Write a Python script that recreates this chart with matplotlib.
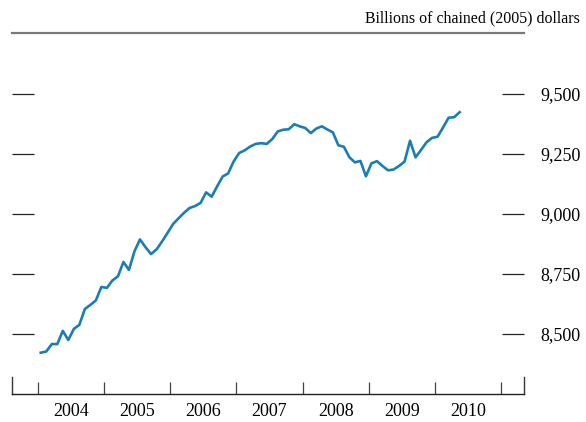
import numpy as np
import matplotlib
matplotlib.use("Agg")
import matplotlib.pyplot as plt
from matplotlib.ticker import FixedLocator, NullFormatter

# -------------------------------
# DATA (monthly, Jan 2004 - May 2010)
# -------------------------------
start_year = 2004
values = [
    8422, 8427, 8458, 8458, 8513, 8475, 8521, 8538, 8604, 8621, 8640, 8696,
    8692, 8723, 8740, 8800, 8767, 8844, 8894, 8862, 8833, 8852, 8885, 8921,
    8958, 8982, 9005, 9025, 9033, 9046, 9090, 9072, 9115, 9156, 9169, 9219,
    9254, 9265, 9281, 9292, 9295, 9292, 9312, 9344, 9351, 9353, 9374, 9365,
    9358, 9337, 9356, 9365, 9352, 9340, 9286, 9280, 9236, 9215, 9221, 9157,
    9211, 9220, 9200, 9182, 9185, 9200, 9218, 9305, 9236, 9267, 9299, 9317,
    9322, 9361, 9401, 9403, 9424,
]
years = [2004, 2005, 2006, 2007, 2008, 2009, 2010]
y_ticks = [8500, 8750, 9000, 9250, 9500]
y_labels = ["8,500", "8,750", "9,000", "9,250", "9,500"]
units = "Billions of chained (2005) dollars"

# mid-month positions in fractional years
months = np.arange(len(values))
x = start_year + (months + 0.5) / 12.0

# -------------------------------
# FIGURE
# -------------------------------
plt.rcParams["font.family"] = ["Liberation Serif", "DejaVu Serif"]
W, H = 586, 422
fig = plt.figure(figsize=(W / 100, H / 100), dpi=100)
ax = fig.add_axes([12 / W, (H - 394) / H, (524 - 12) / W, (394 - 33) / H])

ax.plot(x, values, color="#1a7db6", linewidth=1.9, solid_joinstyle="round")

x0, x1 = 2003.607, 2011.348
ax.set_xlim(x0, x1)
ax.set_ylim(8250, 9754)

# spines
ax.spines["left"].set_visible(False)
ax.spines["right"].set_visible(False)
ax.spines["bottom"].set_color("#222222")
ax.spines["bottom"].set_linewidth(1.0)
ax.spines["top"].set_color("#7a7a7a")
ax.spines["top"].set_linewidth(1.6)

# y ticks: on both sides, labels right
ax.yaxis.set_major_locator(FixedLocator(y_ticks))
ax.set_yticklabels(y_labels)
ax.tick_params(axis="y", which="major", direction="in", left=True, right=True,
               labelleft=False, labelright=True, length=15.5, width=0.9,
               color="#222222", pad=11.5, labelsize=13)

# x ticks: year boundaries plus axis ends, labels centred mid-year
bounds = list(range(2004, 2012))
ax.xaxis.set_major_locator(FixedLocator(bounds))
ax.xaxis.set_major_formatter(NullFormatter())
ax.xaxis.set_minor_locator(FixedLocator([yr + 0.5 for yr in years]))
ax.set_xticklabels([str(yr) for yr in years], minor=True)
ax.tick_params(axis="x", which="major", direction="in", length=8.5, width=0.9,
               color="#444444", top=False)
ax.tick_params(axis="x", which="minor", length=0, pad=6.5, labelsize=13)

# taller end ticks at both ends of the axis
for xe in (x0, x1):
    ax.plot([xe, xe], [0, 0.047], transform=ax.get_xaxis_transform(),
            color="#333333", linewidth=1.0, clip_on=False)

fig.text(580 / W, 1 - 18 / H, units, ha="right", va="center", fontsize=11.4)

fig.savefig("out.png", dpi=100)
